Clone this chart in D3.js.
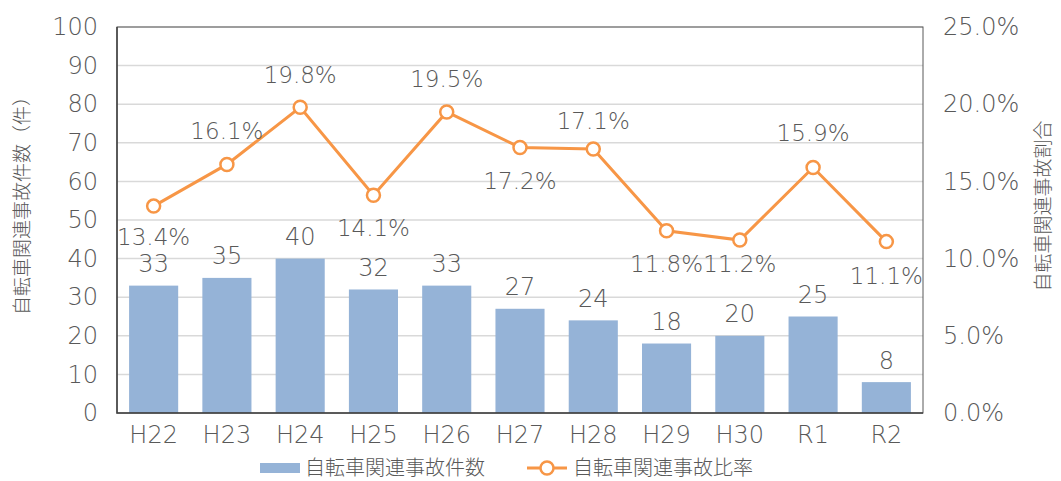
<!DOCTYPE html>
<html lang="ja">
<head>
<meta charset="utf-8">
<script src="https://cdn.jsdelivr.net/npm/d3@7"></script>
<style>
  body { margin: 0; background: #fff; }
  text { font-family: "DejaVu Sans", "Noto Sans CJK JP", sans-serif; fill: #595959; font-weight: 300; }
</style>
</head>
<body>
<div id="chart"></div>
<script>
// data
const years = ['H22', 'H23', 'H24', 'H25', 'H26', 'H27', 'H28', 'H29', 'H30', 'R1', 'R2'];
const accidentCounts = [33, 35, 40, 32, 33, 27, 24, 18, 20, 25, 8];
const accidentRates = [0.134, 0.161, 0.198, 0.141, 0.195, 0.172, 0.171, 0.118, 0.112, 0.159, 0.111];
const countTicks = [0, 10, 20, 30, 40, 50, 60, 70, 80, 90, 100];
const rateTicks = [0, 0.05, 0.10, 0.15, 0.20, 0.25];

const countLabel = '自転車関連事故件数';
const rateLabel = '自転車関連事故比率';
const leftTitle = '自転車関連事故件数（件）';
const rightTitle = '自転車関連事故割合';

// where the rate labels sit relative to their point (Excel put some by hand)
const rateLabelDy = [31, -33, -32, 33, -33, 34, -28, 33, 24, -35, 34];

class ComboChart {
  constructor(_config) {
    this.config = {
      parentElement: _config.parentElement,
      containerWidth: 1061,
      containerHeight: 481,
      margin: { top: 27, right: 138, bottom: 68, left: 117 },
      barColor: '#95b3d7',
      lineColor: '#f79646',
      gridColor: '#d9d9d9',
      axisColor: '#595959',
      fontSize: 24
    };
    this.initVis();
  }

  initVis() {
    let vis = this;
    const m = vis.config.margin;
    vis.width = vis.config.containerWidth - m.left - m.right;
    vis.height = vis.config.containerHeight - m.top - m.bottom;

    vis.svg = d3.select(vis.config.parentElement).append('svg')
      .attr('width', vis.config.containerWidth)
      .attr('height', vis.config.containerHeight);

    vis.chart = vis.svg.append('g')
      .attr('transform', `translate(${m.left},${m.top})`);

    vis.xScale = d3.scaleBand()
      .domain(years)
      .range([0, vis.width])
      .paddingInner(0.33)
      .paddingOuter(0.165);

    vis.yScale = d3.scaleLinear().domain([0, 100]).range([vis.height, 0]);
    vis.y2Scale = d3.scaleLinear().domain([0, 0.25]).range([vis.height, 0]);

    vis.renderVis();
  }

  renderVis() {
    let vis = this;
    const cfg = vis.config;

    // gridlines
    vis.chart.append('g')
      .selectAll('line')
      .data(countTicks.slice(1))
      .join('line')
      .attr('x1', 0).attr('x2', vis.width)
      .attr('y1', d => vis.yScale(d)).attr('y2', d => vis.yScale(d))
      .attr('stroke', cfg.gridColor)
      .attr('stroke-width', 1.5);

    // bars
    vis.chart.append('g')
      .selectAll('rect')
      .data(accidentCounts)
      .join('rect')
      .attr('x', (d, i) => vis.xScale(years[i]))
      .attr('y', d => vis.yScale(d))
      .attr('width', vis.xScale.bandwidth())
      .attr('height', d => vis.height - vis.yScale(d))
      .attr('fill', cfg.barColor);

    // frame
    vis.chart.append('rect')
      .attr('width', vis.width).attr('height', vis.height)
      .attr('fill', 'none')
      .attr('stroke', cfg.axisColor)
      .attr('stroke-width', 1);
    vis.chart.append('path')
      .attr('d', `M0,0V${vis.height}H${vis.width}`)
      .attr('fill', 'none')
      .attr('stroke', '#404040')
      .attr('stroke-width', 1.5);

    // axes
    const yAxis = d3.axisLeft(vis.yScale).tickValues(countTicks).tickSize(0).tickPadding(19);
    const y2Axis = d3.axisRight(vis.y2Scale).tickValues(rateTicks).tickSize(0).tickPadding(20)
      .tickFormat(d3.format('.1%'));
    const xAxis = d3.axisBottom(vis.xScale).tickSize(0).tickPadding(13);

    const styleAxis = g => {
      g.attr('font-family', null);
      g.select('.domain').remove();
      g.selectAll('text')
        .attr('fill', '#595959')
        .style('font-size', cfg.fontSize + 'px');
    };

    vis.chart.append('g').call(yAxis).call(styleAxis);
    vis.chart.append('g').attr('transform', `translate(${vis.width},0)`).call(y2Axis).call(styleAxis);
    vis.chart.append('g').attr('transform', `translate(0,${vis.height})`).call(xAxis).call(styleAxis);

    // bar value labels
    const cx = i => vis.xScale(years[i]) + vis.xScale.bandwidth() / 2;
    vis.chart.append('g')
      .selectAll('text')
      .data(accidentCounts)
      .join('text')
      .attr('x', (d, i) => cx(i))
      .attr('y', d => vis.yScale(d) - 22)
      .attr('dy', '0.35em')
      .attr('text-anchor', 'middle')
      .style('font-size', cfg.fontSize + 'px')
      .text(d => d);

    // rate line
    const line = d3.line()
      .x((d, i) => cx(i))
      .y(d => vis.y2Scale(d));

    vis.chart.append('path')
      .datum(accidentRates)
      .attr('d', line)
      .attr('fill', 'none')
      .attr('stroke', cfg.lineColor)
      .attr('stroke-width', 3);

    vis.chart.append('g')
      .selectAll('circle')
      .data(accidentRates)
      .join('circle')
      .attr('cx', (d, i) => cx(i))
      .attr('cy', d => vis.y2Scale(d))
      .attr('r', 6.5)
      .attr('fill', '#fff')
      .attr('stroke', cfg.lineColor)
      .attr('stroke-width', 2.5);

    vis.chart.append('g')
      .selectAll('text')
      .data(accidentRates)
      .join('text')
      .attr('x', (d, i) => cx(i))
      .attr('y', (d, i) => vis.y2Scale(d) + rateLabelDy[i])
      .attr('dy', '0.35em')
      .attr('text-anchor', 'middle')
      .style('font-size', '23px')
      .text(d => d3.format('.1%')(d));

    // axis titles
    vis.svg.append('text')
      .attr('transform', `translate(22,201) rotate(-90)`)
      .attr('text-anchor', 'middle')
      .attr('dy', '0.35em')
      .style('font-size', '19px')
      .text(leftTitle);

    vis.svg.append('text')
      .attr('transform', `translate(1043,206) rotate(-90)`)
      .attr('text-anchor', 'middle')
      .attr('dy', '0.35em')
      .style('font-size', '19px')
      .text(rightTitle);

    // legend
    const legend = vis.svg.append('g').attr('transform', 'translate(0,468)');
    legend.append('rect')
      .attr('x', 260).attr('y', -5)
      .attr('width', 40).attr('height', 10)
      .attr('fill', cfg.barColor);
    legend.append('text')
      .attr('x', 305).attr('dy', '0.35em')
      .style('font-size', '20px')
      .text(countLabel);
    legend.append('line')
      .attr('x1', 527).attr('x2', 567)
      .attr('stroke', cfg.lineColor).attr('stroke-width', 3);
    legend.append('circle')
      .attr('cx', 547).attr('r', 6.5)
      .attr('fill', '#fff')
      .attr('stroke', cfg.lineColor).attr('stroke-width', 2.5);
    legend.append('text')
      .attr('x', 573).attr('dy', '0.35em')
      .style('font-size', '20px')
      .text(rateLabel);
  }
}

new ComboChart({ parentElement: '#chart' });
</script>
</body>
</html>
